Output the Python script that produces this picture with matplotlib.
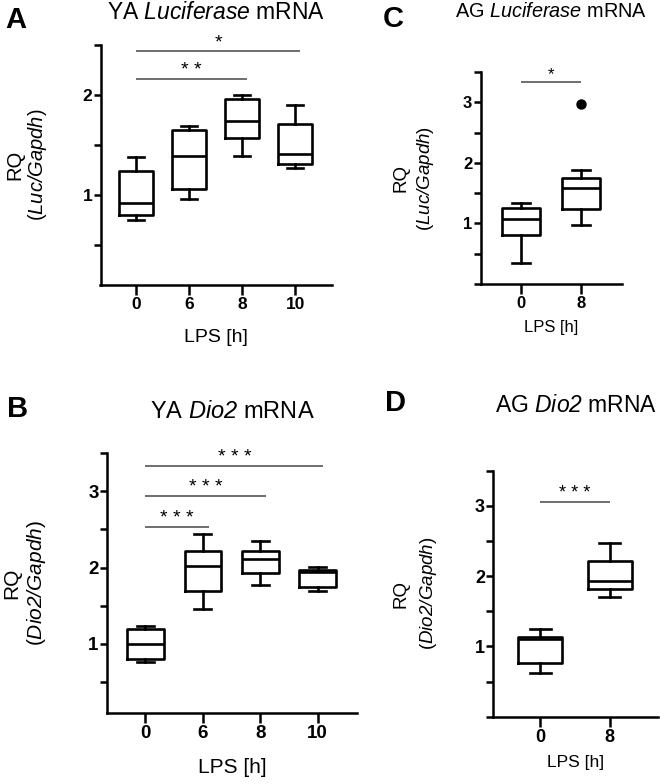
import matplotlib
matplotlib.use("Agg")
import matplotlib.pyplot as plt
from matplotlib.ticker import MultipleLocator

plt.rcParams['font.family'] = ['Liberation Sans', 'DejaVu Sans']
plt.rcParams['mathtext.fontset'] = 'custom'
# only italic words go through mathtext, so digits should be italic too
plt.rcParams['mathtext.rm'] = 'Liberation Sans:italic'
plt.rcParams['mathtext.it'] = 'Liberation Sans:italic'

# ---- data ----
# A: young adult Luciferase
a_groups = ['0', '6', '8', '10']
a_whislo = [0.75, 0.96, 1.39, 1.27]
a_q1 = [0.80, 1.06, 1.57, 1.31]
a_med = [0.92, 1.39, 1.74, 1.41]
a_q3 = [1.24, 1.65, 1.96, 1.71]
a_whishi = [1.38, 1.69, 2.00, 1.90]
a_sig = [(0, 3, 2.44, '*'), (0, 2, 2.16, '* *')]

# B: young adult Dio2
b_groups = ['0', '6', '8', '10']
b_whislo = [0.76, 1.46, 1.77, 1.69]
b_q1 = [0.80, 1.69, 1.93, 1.75]
b_med = [1.00, 2.02, 2.11, 1.94]
b_q3 = [1.19, 2.22, 2.22, 1.97]
b_whishi = [1.23, 2.44, 2.35, 2.01]
b_sig = [(0, 1, 2.53, '* * *'), (0, 2, 2.94, '* * *'), (0, 3, 3.33, '* * *')]

# C: aged Luciferase
c_groups = ['0', '8']
c_whislo = [0.35, 0.97]
c_q1 = [0.81, 1.24]
c_med = [1.07, 1.58]
c_q3 = [1.26, 1.75]
c_whishi = [1.34, 1.88]
c_fliers = [[], [2.97]]
c_sig = [(0, 1, 3.34, '*')]

# D: aged Dio2
d_groups = ['0', '8']
d_whislo = [0.62, 1.71]
d_q1 = [0.76, 1.81]
d_med = [1.10, 1.93]
d_q3 = [1.14, 2.21]
d_whishi = [1.25, 2.47]
d_sig = [(0, 1, 3.06, '* * *')]

W, H = 660, 784
fig = plt.figure(figsize=(6.6, 7.84), dpi=100)


def px_axes(l, t, r, b):
    return fig.add_axes([l / W, 1 - b / H, (r - l) / W, (b - t) / H])


def draw_panel(ax, groups, whislo, q1, med, q3, whishi, fliers, sig, ylim,
               yticks, tick_fs, line_ext, star_fs):
    stats = []
    for i in range(len(groups)):
        stats.append(dict(med=med[i], q1=q1[i], q3=q3[i], whislo=whislo[i],
                          whishi=whishi[i], fliers=fliers[i] if fliers else []))
    lw = 1.9
    ax.bxp(stats, positions=range(len(groups)), widths=0.64, capwidths=0.3,
           boxprops=dict(color='black', linewidth=lw),
           medianprops=dict(color='black', linewidth=lw),
           whiskerprops=dict(color='black', linewidth=lw),
           capprops=dict(color='black', linewidth=lw),
           flierprops=dict(marker='o', markerfacecolor='black',
                           markeredgecolor='black', markersize=6.5))
    ax.set_xlim(-0.67, len(groups) - 1 + 0.69)
    ax.set_ylim(*ylim)
    ax.set_xticks(range(len(groups)))
    ax.set_xticklabels(groups)
    ax.yaxis.set_major_locator(plt.FixedLocator(yticks))
    ax.yaxis.set_minor_locator(MultipleLocator(0.5))
    for s in ['top', 'right']:
        ax.spines[s].set_visible(False)
    for s in ['left', 'bottom']:
        ax.spines[s].set_linewidth(1.8)
    ax.tick_params(axis='x', length=7, width=1.8, pad=2, labelsize=tick_fs)
    ax.tick_params(axis='y', which='both', length=5, width=1.8, pad=1,
                   labelsize=tick_fs)
    for lab in ax.get_xticklabels() + ax.get_yticklabels():
        lab.set_fontweight('bold')
    for i, j, y, txt in sig:
        x2 = j + line_ext
        ax.plot([i, x2], [y, y], color='#555555', linewidth=1.2,
                solid_capstyle='butt')
        ax.annotate(txt, xy=((i + x2) / 2, y), xytext=(0, 0),
                    textcoords='offset points', ha='center', va='bottom',
                    fontsize=star_fs)


def ylabels(ax, gene, fs, x_rq, x_gene):
    ax.annotate('RQ', xy=(0, 0.5), xycoords='axes fraction',
                xytext=(x_rq, 0), textcoords='offset points',
                rotation=90, ha='center', va='center', fontsize=fs)
    ax.annotate('($\\mathit{' + gene + '/Gapdh}$)', xy=(0, 0.5),
                xycoords='axes fraction', xytext=(x_gene, 0),
                textcoords='offset points', rotation=90,
                ha='center', va='center', fontsize=fs)


def xlabel(ax, fs, off):
    ax.annotate('LPS [h]', xy=(0.5, 0), xycoords='axes fraction',
                xytext=(0, off), textcoords='offset points',
                ha='center', va='top', fontsize=fs)


# Panel A
axA = px_axes(100.5, 45, 331.7, 285)
draw_panel(axA, a_groups, a_whislo, a_q1, a_med, a_q3, a_whishi, None,
           a_sig, (0.1, 2.5), [1, 2], 12.5, 0.1, 14)
axA.set_title('YA $\\mathit{Luciferase}$ mRNA', fontsize=16.5, pad=19)
ylabels(axA, 'Luc', 14.5, -61.6, -45.7)
xlabel(axA, 14, -32)

# Panel C
axC = px_axes(480.7, 72, 622, 284)
draw_panel(axC, c_groups, c_whislo, c_q1, c_med, c_q3, c_whishi, c_fliers,
           c_sig, (0, 3.5), [1, 2, 3], 12, 0.0, 12)
axC.set_title('AG $\\mathit{Luciferase}$ mRNA', fontsize=14.3, pad=39.5)
ylabels(axC, 'Luc', 13.5, -57.4, -40)
xlabel(axC, 12, -26)

# Panel B
axB = px_axes(107, 453, 357.3, 712.7)
draw_panel(axB, b_groups, b_whislo, b_q1, b_med, b_q3, b_whishi, None,
           b_sig, (0.1, 3.5), [1, 2, 3], 13.5, 0.1, 14)
axB.set_title('YA $\\mathit{Dio2}$ mRNA', fontsize=17, pad=25)
ylabels(axB, 'Dio2', 15, -68.4, -51)
xlabel(axB, 15, -32.6)

# Panel D
axD = px_axes(493.3, 470.7, 658, 716.7)
draw_panel(axD, d_groups, d_whislo, d_q1, d_med, d_q3, d_whishi, None,
           d_sig, (0, 3.5), [1, 2, 3], 13, 0.0, 13)
axD.set_title('AG $\\mathit{Dio2}$ mRNA', fontsize=16.5, pad=42)
ylabels(axD, 'Dio2', 13.5, -66.5, -47)
xlabel(axD, 12.5, -27.6)

# panel letters
for letter, x, y in [('A', 5, 28), ('C', 383, 27), ('B', 7, 417), ('D', 385, 411)]:
    fig.text(x / W, 1 - y / H, letter, fontsize=21, fontweight='bold',
             ha='left', va='baseline')

fig.savefig('out.png', dpi=100)
